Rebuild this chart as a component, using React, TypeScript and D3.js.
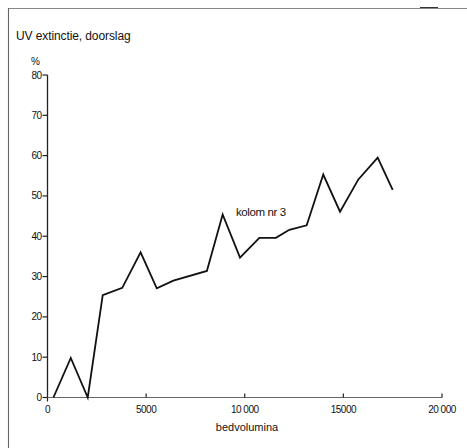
import React from 'react';
import * as d3 from 'd3';

// bedvolumina (x) and UV extinctie doorslag in % (y)
const bedVolumes = [300, 1180, 2040, 2800, 3790, 4720, 5540, 6380, 8080, 8880, 9760, 10740, 11580, 12260, 13140, 13980, 14830, 15760, 16740, 17500];
const breakthrough = [0, 9.8, 0, 25.4, 27.2, 36, 27.1, 29, 31.4, 45.4, 34.7, 39.6, 39.6, 41.6, 42.7, 55.3, 46.1, 54.1, 59.5, 51.5];

const xTicks = [0, 5000, 10000, 15000, 20000];
const xTickLabels = ['0', '5000', '10 000', '15000', '20 000'];
const yTicks = [0, 10, 20, 30, 40, 50, 60, 70, 80];

const W = 467;
const H = 448;
const FONT = '"Liberation Sans", Arial, Helvetica, sans-serif';

const App = () => {
    const x = d3.scaleLinear().domain([0, 20000]).range([47.5, 442]);
    const y = d3.scaleLinear().domain([0, 80]).range([397.5, 75]);

    const pts: [number, number][] = bedVolumes.map((v, i) => [v, breakthrough[i]]);
    const line = d3.line<[number, number]>()
        .x(d => x(d[0]))
        .y(d => y(d[1]))
        .curve(d3.curveLinear);

    return (
        <div style={{ position: 'fixed', left: 0, top: 0, width: W, height: H, background: '#fff' }}>
            <svg width={W} height={H} style={{ display: 'block' }} fontFamily={FONT}>
                {/* page frame fragments */}
                <line x1={8} x2={W} y1={8.5} y2={8.5} stroke="#888" strokeWidth={1.2} />
                <line x1={8.5} x2={8.5} y1={8} y2={H} stroke="#666" strokeWidth={1.1} />
                <line x1={420} x2={438} y1={7.5} y2={7.5} stroke="#333" strokeWidth={1} />

                {/* titles */}
                <text x={16} y={40} fontSize={12} fill="#111" letterSpacing={-0.1}>UV extinctie, doorslag</text>
                <text x={31} y={65} fontSize={10} fill="#111">%</text>

                {/* y axis */}
                <line x1={x(0)} x2={x(0)} y1={y(80)} y2={y(0)} stroke="#222" strokeWidth={1.3} />
                {yTicks.map(t => (
                    <g key={t} transform={`translate(0, ${y(t)})`}>
                        <line x1={x(0) - 5} x2={x(0)} stroke="#222" strokeWidth={1.2} />
                        <text x={x(0) - 6} dy="0.35em" textAnchor="end" fontSize={10} fill="#111" letterSpacing={-0.5}>{t}</text>
                    </g>
                ))}

                {/* x axis */}
                <line x1={x(0)} x2={x(20000)} y1={y(0)} y2={y(0)} stroke="#666" strokeWidth={1.2} />
                {xTicks.map((t, i) => (
                    <g key={t} transform={`translate(${x(t)}, 0)`}>
                        <line y1={y(0) - (i === 0 ? 0 : 4)} y2={y(0) + (i === 0 ? 4 : 0)} stroke="#222" strokeWidth={1.2} />
                        <text y={y(0) + 15} textAnchor="middle" fontSize={10} fill="#111" letterSpacing={-0.5}>{xTickLabels[i]}</text>
                    </g>
                ))}
                <text x={247} y={431} textAnchor="middle" fontSize={11} fill="#111">bedvolumina</text>

                {/* series */}
                <path d={line(pts) || ''} fill="none" stroke="#111" strokeWidth={1.8} strokeLinejoin="miter" />
                <text x={236} y={216} fontSize={11.5} fill="#111" letterSpacing={-0.4}>kolom nr 3</text>
            </svg>
        </div>
    );
};

export default App;
